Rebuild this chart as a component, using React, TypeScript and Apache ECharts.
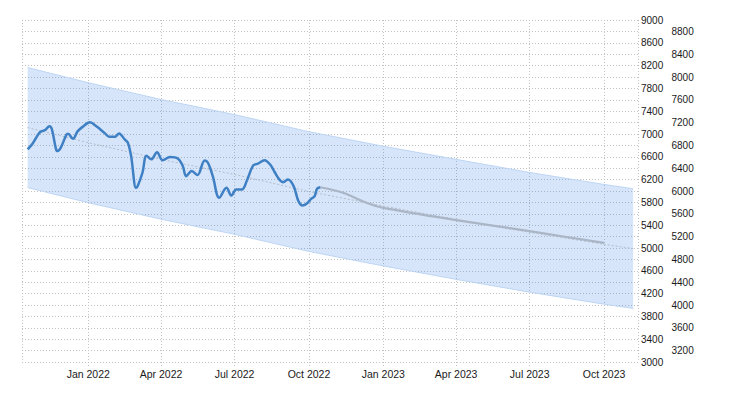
import { useEffect, useRef } from "react";
import * as echarts from "echarts";

const mainDates = [
  "2021-10-18", "2021-10-24", "2021-11-02", "2021-11-08", "2021-11-14", "2021-11-17",
  "2021-11-22", "2021-11-24", "2021-11-28", "2021-12-05", "2021-12-07", "2021-12-13",
  "2021-12-19", "2021-12-25", "2022-01-03", "2022-01-11", "2022-01-21", "2022-01-27",
  "2022-02-03", "2022-02-08", "2022-02-15", "2022-02-19", "2022-02-23", "2022-03-01",
  "2022-03-03", "2022-03-09", "2022-03-14", "2022-03-20", "2022-03-27", "2022-04-03",
  "2022-04-12", "2022-04-22", "2022-04-28", "2022-05-02", "2022-05-09", "2022-05-16",
  "2022-05-25", "2022-05-29", "2022-06-04", "2022-06-12", "2022-06-21", "2022-06-27",
  "2022-07-03", "2022-07-10", "2022-07-16", "2022-07-24", "2022-07-30", "2022-08-07",
  "2022-08-14", "2022-08-20", "2022-08-26", "2022-08-30", "2022-09-05", "2022-09-12",
  "2022-09-18", "2022-09-23", "2022-09-28", "2022-10-04", "2022-10-08", "2022-10-11",
  "2022-10-15",
];
const mainValues = [
  6730, 6830, 7030, 7065, 7135, 7080,
  6740, 6700, 6760, 6990, 7005, 6915,
  7050, 7125, 7205, 7135, 7020, 6950,
  6950, 7010, 6905, 6845, 6610, 6055,
  6085, 6320, 6620, 6555, 6680, 6540,
  6595, 6565, 6435, 6260, 6350, 6280,
  6535, 6495, 6260, 5880, 6055, 5920,
  6025, 6025, 6175, 6450, 6480, 6540,
  6465, 6320, 6190, 6155, 6200, 6085,
  5820, 5745, 5775, 5865, 5910, 6040,
  6065,
];

const forecastDates = ["2022-10-15", "2022-11-12", "2022-12-11", "2023-01-01", "2023-04-01", "2023-07-01", "2023-10-01"];
const forecastValues = [6065, 5970, 5795, 5705, 5490, 5295, 5090];

const bandDates = [
  "2021-10-18", "2022-01-01", "2022-04-01", "2022-07-01", "2022-10-01",
  "2023-01-01", "2023-04-01", "2023-07-01", "2023-10-01", "2023-11-06",
];
const bandUpper = [8165, 7900, 7605, 7340, 7040, 6785, 6555, 6325, 6115, 6040];
const bandLower = [6060, 5795, 5505, 5240, 4940, 4685, 4450, 4225, 4015, 3940];
const trendValues = [7112, 6848, 6555, 6290, 5990, 5735, 5502, 5275, 5065, 4990];

const yMin = 3000;
const yMax = 9000;
const yStep = 200;
const xMin = "2021-10-11";
const xMax = "2023-11-12";
const monthNames = ["Jan", "Feb", "Mar", "Apr", "May", "Jun", "Jul", "Aug", "Sep", "Oct", "Nov", "Dec"];

const FONT = "Liberation Sans";

export default function App() {
  const ref = useRef<HTMLDivElement>(null);
  useEffect(() => {
    const chart = echarts.init(ref.current!, null, { renderer: "svg" });
    const pair = (d: string[], v: number[]) => d.map((x, i) => [x, v[i]]);
    const gridStyle = { type: [1, 2] as any, color: "#c2c2c2", width: 1 };
    const quarter = 92 * 86400000;
    const labelBase = { color: "#1a1a1a", fontSize: 10, fontFamily: FONT };
    chart.setOption({
      animation: false,
      grid: { left: 22, right: 92, top: 20, bottom: 38 },
      xAxis: {
        type: "time",
        min: xMin,
        max: xMax,
        minInterval: quarter,
        maxInterval: quarter,
        axisLine: { show: false },
        axisTick: { show: true, length: 4, lineStyle: gridStyle },
        splitLine: { show: true, lineStyle: gridStyle },
        axisLabel: {
          ...labelBase,
          fontSize: 10.5,
          margin: 6,
          hideOverlap: false,
          formatter: (v: number) => {
            const d = new Date(v);
            return monthNames[d.getMonth()] + " " + d.getFullYear();
          },
        },
      },
      yAxis: [
        {
          type: "value",
          position: "right",
          min: yMin,
          max: yMax,
          interval: yStep,
          axisLine: { show: false },
          axisTick: { show: false },
          splitLine: { show: true, lineStyle: gridStyle },
          axisLabel: {
            ...labelBase,
            margin: 3,
            formatter: (v: number) => ((v - yMin) % (yStep * 2) === 0 ? String(v) : ""),
          },
        },
        {
          type: "value",
          position: "right",
          offset: 30.5,
          min: yMin,
          max: yMax,
          interval: yStep,
          axisLine: { show: false },
          axisTick: { show: false },
          splitLine: { show: false },
          axisLabel: {
            ...labelBase,
            margin: 3,
            formatter: (v: number) => ((v - yMin) % (yStep * 2) !== 0 ? String(v) : ""),
          },
        },
      ],
      series: [
        {
          type: "line",
          name: "lower",
          data: pair(bandDates, bandLower),
          stack: "band",
          symbol: "none",
          silent: true,
          lineStyle: { color: "#bdd5f4", width: 1 },
        },
        {
          type: "line",
          name: "upper",
          data: bandDates.map((d, i) => [d, bandUpper[i] - bandLower[i]]),
          stack: "band",
          symbol: "none",
          silent: true,
          lineStyle: { color: "#bdd5f4", width: 1 },
          areaStyle: { color: "rgba(50,125,230,0.2)", opacity: 1 },
        },
        {
          type: "line",
          name: "trend",
          data: pair(bandDates, trendValues),
          symbol: "none",
          silent: true,
          lineStyle: { color: "#b4bcc9", width: 1, type: [2, 2] },
        },
        {
          type: "line",
          name: "forecast",
          data: pair(forecastDates, forecastValues),
          symbol: "none",
          smooth: 0.3,
          lineStyle: { color: "#aab5c6", width: 2.2 },
        },
        {
          type: "line",
          name: "main",
          data: pair(mainDates, mainValues),
          symbol: "none",
          smooth: 0.35,
          lineStyle: { color: "#3f80c4", width: 2.5 },
        },
      ],
    });
    return () => chart.dispose();
  }, []);
  return (
    <div
      ref={ref}
      style={{ position: "absolute", left: 0, top: 0, width: 730, height: 400 }}
    />
  );
}
